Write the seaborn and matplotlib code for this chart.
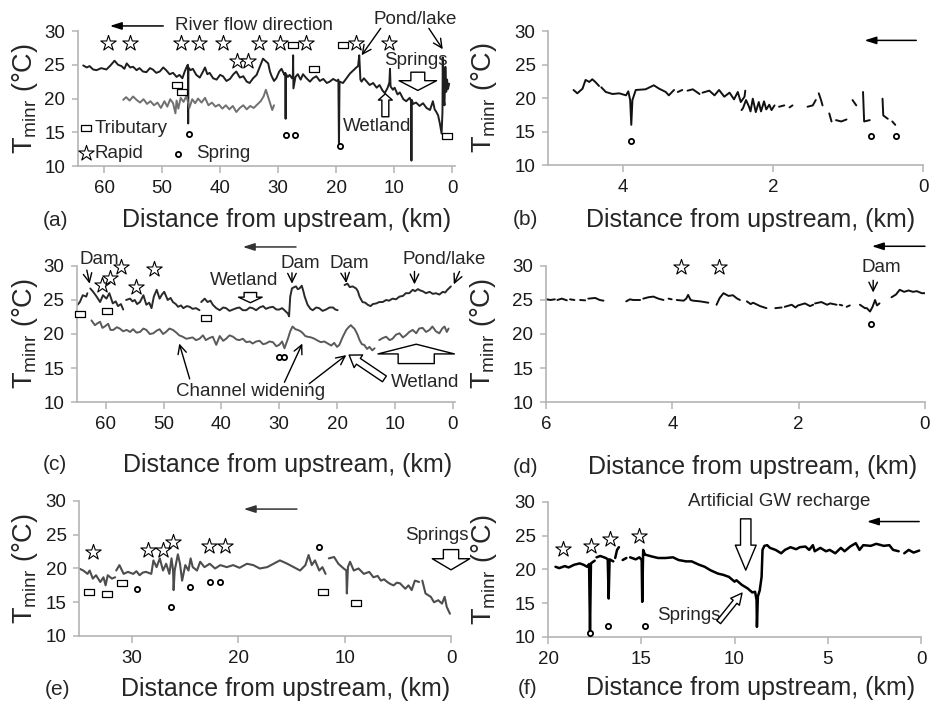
import numpy as np
import pandas as pd
import matplotlib
matplotlib.use('Agg')
import matplotlib.pyplot as plt
import seaborn as sns

# longitudinal profiles: (distance from upstream km, T_minr degC), None = gap in record
a_upper = [(63.6, 24.9), (63.0, 24.6), (62.5, 24.8), (61.9, 24.3), (61.3, 24.2), (60.5, 24.5), (59.6, 24.3),
           (58.9, 24.9), (58.2, 25.6), (57.6, 25.0), (57.0, 24.8), (56.5, 24.4), (56.1, 25.2), (55.5, 24.6),
           (55.0, 24.7), (54.4, 24.2), (53.9, 24.5), (53.3, 24.0), (52.7, 23.9), (52.1, 24.5), (51.6, 24.3),
           (51.0, 23.8), (50.4, 24.0), (49.8, 24.6), (49.3, 24.2), (48.7, 23.6), (48.1, 23.8), (47.5, 23.2),
           (47.0, 23.5), (46.5, 23.0), (46.1, 24.0), (45.7, 24.8), (45.55, 25.0), (45.5, 16.3), (45.45, 24.6),
           (45.1, 24.2), (44.7, 24.4), (44.1, 23.5), (43.5, 23.1), (43.0, 23.9), (42.6, 24.6), (42.2, 23.6),
           (41.8, 23.8), (41.2, 23.0), (40.6, 22.8), (40.0, 23.5), (39.5, 23.3), (38.9, 22.6), (38.3, 22.9),
           (37.7, 23.6), (37.2, 24.0), (36.6, 23.1), (36.0, 23.3), (35.4, 22.5), (34.9, 22.3), (34.3, 23.0),
           (33.7, 23.5), (33.1, 24.8), (32.6, 25.9), (32.1, 25.5), (31.7, 25.2), (31.4, 24.0), (31.1, 23.3),
           (30.7, 22.6), (30.3, 23.0), (29.8, 24.0), (29.4, 24.4), (28.9, 23.5), (28.75, 23.8), (28.7, 17.0),
           (28.65, 23.6), (28.3, 23.2), (28.0, 23.5), (27.6, 23.0), (27.45, 23.4), (27.4, 26.4), (27.35, 21.5),
           (27.0, 23.2), (26.6, 23.6), (26.1, 22.8), (25.7, 23.6), (25.1, 23.0), (24.5, 22.5), (24.0, 23.0),
           (23.4, 23.3), (22.8, 22.6), (22.2, 22.9), (21.6, 22.3), (21.1, 22.5), (20.5, 22.9), (19.9, 22.6),
           (19.6, 22.8), (19.5, 12.8), (19.4, 22.5), (18.8, 22.3), (18.2, 23.0), (17.6, 23.7), (17.0, 24.2),
           (16.5, 24.6), (16.2, 24.8), (16.0, 26.4), (15.8, 22.8), (15.6, 22.5), (15.2, 23.0), (14.8, 22.6),
           (14.2, 22.0), (13.6, 22.3), (13.0, 21.6), (12.5, 22.0), (12.0, 21.2), (11.6, 20.8), (11.1, 21.6),
           (10.8, 22.4), (10.7, 24.4), (10.6, 21.8), (10.2, 21.3), (9.9, 21.6), (9.4, 20.6), (9.0, 20.9),
           (8.4, 19.9), (7.9, 19.6), (7.3, 20.1), (7.05, 19.6), (7.0, 10.8), (6.95, 19.8), (6.7, 19.2),
           (6.2, 19.4), (5.6, 18.9), (5.0, 19.3), (4.4, 18.6), (3.8, 18.3), (3.3, 19.6), (3.0, 18.4),
           (2.7, 18.0), (2.4, 17.5), (2.1, 16.3), (1.8, 14.8), (1.65, 18.0), (1.6, 26.1), (1.5, 20.5),
           (1.3, 19.0), (1.15, 24.7), (1.0, 21.0), (0.85, 22.8), (0.7, 21.4), (0.5, 22.2)]
a_lower = [(56.7, 19.8), (56.2, 20.2), (55.6, 19.7), (55.0, 20.3), (54.4, 19.8), (53.8, 19.4), (53.2, 19.9),
           (52.6, 19.2), (52.0, 19.6), (51.4, 19.0), (50.8, 19.4), (50.2, 18.6), (49.6, 19.6), (49.1, 18.8),
           (48.6, 19.9), (48.1, 19.3), (47.7, 17.8), (47.5, 19.7), (47.2, 18.5), (46.8, 20.1), (46.3, 19.5),
           (45.8, 20.4), (45.3, 18.6), (44.8, 19.9), (44.3, 19.3), (43.8, 20.0), (43.2, 19.4), (42.6, 20.1),
           (42.0, 19.0), (41.4, 19.4), (40.8, 18.8), (40.2, 19.1), (39.6, 18.5), (39.0, 19.0), (38.4, 18.4),
           (37.8, 18.9), (37.2, 18.0), (36.6, 18.6), (36.0, 19.0), (35.4, 18.4), (34.8, 18.9), (34.2, 18.6),
           (33.6, 19.1), (33.0, 19.6), (32.5, 20.3), (32.1, 21.3), (31.7, 20.2), (31.3, 19.1), (31.0, 18.3),
           (30.7, 19.0)]
b_line = [(4.66, 21.2), (4.61, 20.7), (4.54, 21.4), (4.50, 22.7), (4.45, 22.4), (4.41, 22.8), (4.37, 22.4),
          (4.32, 21.8), None, (4.29, 21.6), (4.23, 20.9), (4.14, 20.6), (4.05, 20.7), (3.96, 20.4), (3.93, 21.0),
          (3.905, 19.7), (3.89, 16.0), (3.875, 19.7), (3.83, 21.2), (3.70, 21.3), (3.59, 21.9), (3.52, 21.4),
          (3.43, 20.9), (3.39, 20.4), (3.32, 21.2), None, (3.27, 20.9), (3.21, 21.2), None, (3.14, 21.1),
          (3.07, 21.3), (2.98, 20.6), None, (2.94, 20.8), (2.85, 21.1), (2.78, 20.4), (2.72, 21.2), (2.65, 20.2),
          (2.58, 20.8), (2.52, 19.8), (2.47, 20.9), (2.43, 19.4), (2.38, 20.2), (2.37, 21.1), None,
          (2.42, 18.2), (2.40, 18.5), (2.36, 19.7), (2.32, 18.7), (2.30, 18.0), (2.27, 19.9), (2.23, 17.9),
          (2.19, 19.4), (2.16, 18.0), (2.12, 19.5), (2.09, 18.3), (2.05, 19.0), (2.02, 18.2), (1.98, 18.9),
          None, (1.92, 18.7), (1.85, 18.9), None, (1.78, 18.6), (1.74, 18.9), None, (1.54, 18.7), (1.47, 18.9),
          (1.43, 19.7), None, (1.39, 20.7), (1.36, 19.7), (1.34, 18.9), None, (1.25, 17.7), (1.22, 16.5), None,
          (1.16, 16.7), (1.09, 16.5), (1.02, 16.8), None, (0.94, 19.7), (0.89, 18.9), None, (0.80, 20.9),
          (0.785, 16.5), (0.71, 16.7), None, (0.54, 19.9), (0.53, 17.4), (0.47, 16.9), None, (0.41, 16.5),
          (0.37, 16.0)]
c_upper = [(64.9, 24.3), (64.5, 24.7), (64.0, 25.7), (63.4, 25.5), (63.2, 26.0), None, (62.7, 26.7),
           (62.2, 26.2), (61.6, 25.5), (61.0, 24.7), (60.5, 25.7), (59.9, 25.2), (59.4, 26.0), (58.8, 24.5),
           (58.3, 24.8), (57.9, 24.1), (57.4, 24.4), (57.0, 23.6), None, (56.5, 25.0), (55.8, 25.2),
           (55.4, 24.8), (55.0, 25.0), (54.6, 24.4), (54.1, 24.7), (53.5, 25.7), (53.0, 24.3), (52.5, 24.6),
           (52.1, 23.8), (51.7, 25.5), (51.2, 26.5), (50.7, 25.2), (50.3, 25.8), (49.9, 26.2), (49.3, 25.0),
           (48.8, 25.3), (48.4, 24.7), (47.9, 24.4), (47.5, 24.0), (47.0, 24.2), (46.6, 23.8), (46.0, 24.1),
           (45.5, 24.0), (45.0, 23.7), (44.4, 23.8), (43.8, 23.5), None, (43.5, 24.7), (42.9, 25.2),
           (42.4, 24.7), (41.9, 24.9), (41.5, 24.3), (40.9, 23.8), (40.3, 23.5), (39.7, 23.9), (39.2, 23.8),
           (38.6, 23.4), (38.0, 23.6), (37.4, 23.8), (36.9, 23.9), (36.3, 23.5), (35.7, 23.5), (35.1, 23.9),
           (34.6, 23.8), (34.0, 23.5), (33.4, 23.9), (32.8, 24.1), (32.3, 23.7), (31.7, 23.9), (31.1, 24.0),
           (30.5, 23.6), (30.0, 23.6), (29.5, 23.8), (29.1, 23.5), (28.5, 23.0), (28.3, 22.6), (28.1, 25.5),
           (27.8, 26.7), (27.4, 26.9), (27.1, 27.0), (26.8, 26.6), (26.5, 26.7), (26.1, 27.1), (25.8, 26.2),
           (25.6, 25.5), (25.1, 24.3), (24.6, 23.7), (24.2, 23.5), (23.6, 23.9), (23.1, 23.8), (22.5, 23.4),
           (21.9, 23.6), (21.3, 23.9), (20.7, 23.9), (20.3, 23.6), (19.9, 23.5), None, (18.7, 27.2),
           (18.2, 27.4), (17.8, 26.9), (17.3, 27.0), (16.7, 26.7), (16.4, 26.3), (16.1, 25.5), (15.6, 24.7),
           (15.1, 24.6), (14.7, 24.3), (14.2, 24.1), (13.8, 24.4), (13.2, 24.5), (12.7, 24.7), (12.1, 24.7),
           (11.5, 25.0), (11.0, 24.9), (10.4, 25.2), (9.8, 25.1), (9.2, 25.5), (8.6, 25.6), (8.1, 26.0),
           (7.5, 26.0), (6.9, 26.5), (6.5, 26.3), (6.0, 26.6), (5.6, 26.4), (5.2, 26.3), (4.6, 26.0),
           (4.0, 26.2), (3.4, 25.9), (2.9, 26.0), (2.3, 25.8), (1.7, 26.2), (1.3, 26.1), (0.9, 26.5),
           (0.3, 27.0)]
c_lower = [(62.5, 22.0), (61.9, 21.3), (61.4, 21.6), (61.0, 21.8), (60.6, 20.9), (60.2, 21.1), (59.6, 21.5),
           (59.2, 20.6), (58.7, 20.6), (58.1, 21.0), (57.6, 20.8), (57.0, 20.4), (56.4, 20.6), (55.8, 20.3),
           (55.3, 20.7), (54.7, 20.2), (54.1, 20.3), (53.5, 20.8), (53.0, 20.6), (52.4, 20.0), (51.8, 20.1),
           (51.2, 20.5), (50.7, 20.7), (50.1, 20.0), (49.6, 20.3), (49.0, 20.8), (48.4, 20.6), (47.8, 20.2),
           (47.3, 19.8), (46.7, 19.6), (46.1, 19.3), (45.5, 19.4), (45.0, 19.5), (44.4, 19.1), (43.8, 19.3),
           (43.2, 19.8), (42.7, 19.1), (42.1, 19.4), (41.5, 19.6), (40.9, 18.4), (40.3, 19.7), (39.7, 19.0),
           (39.2, 19.3), (38.6, 19.8), (38.0, 19.6), (37.4, 19.2), (36.9, 19.1), (36.3, 19.3), (35.7, 18.8),
           (35.1, 18.9), (34.6, 18.6), (34.0, 18.9), (33.4, 19.0), (32.8, 18.5), (32.3, 18.6), (31.7, 18.9),
           (31.1, 18.8), (30.5, 18.2), (30.0, 18.4), (29.5, 18.9), (29.1, 17.9), (28.8, 18.6), (28.5, 19.3),
           (28.1, 20.4), (27.7, 21.1), (27.2, 20.7), (26.8, 20.6), (26.3, 20.4), (25.9, 20.1), (25.5, 19.7),
           (25.1, 19.6), (24.5, 19.5), (23.9, 19.3), (23.3, 19.0), (22.8, 18.8), (22.2, 18.9), (21.6, 18.6),
           (21.0, 18.3), (20.5, 18.7), (20.0, 18.1), (19.6, 18.4), (19.0, 19.6), (18.4, 20.6), (18.0, 21.0),
           (17.6, 21.3), (17.3, 21.0), (17.0, 20.8), (16.5, 20.0), (16.1, 19.1), (15.7, 18.5), (15.3, 18.4),
           (14.8, 17.8), (14.4, 18.1), (13.9, 17.6), (13.5, 17.9), None, (12.7, 19.1), (12.1, 19.4),
           (11.5, 19.6), (10.9, 19.1), (10.4, 19.3), (9.8, 19.9), (9.2, 20.1), (8.6, 19.5), (8.1, 19.8),
           (7.5, 20.3), (6.9, 20.6), (6.3, 20.1), (5.8, 20.8), (5.2, 20.9), (4.6, 20.3), (4.0, 20.6),
           (3.5, 21.1), (2.9, 20.4), (2.3, 20.1), (1.8, 20.8), (1.4, 21.1), (1.0, 20.3), (0.7, 20.8)]
d_line = [(5.99, 25.1), (5.93, 25.0), (5.86, 25.1), None, (5.82, 25.0), (5.75, 25.2), (5.67, 24.95), None,
          (5.62, 25.1), (5.55, 25.0), None, (5.46, 25.0), (5.38, 24.95), None, (5.33, 25.2), (5.22, 25.3),
          (5.15, 25.0), (5.09, 24.9), None, (4.73, 24.8), (4.67, 25.1), (4.62, 25.0), (4.51, 25.0), None,
          (4.46, 25.2), (4.38, 25.4), (4.30, 25.5), (4.22, 25.2), (4.14, 25.0), None, (4.06, 25.2),
          (4.01, 25.1), None, (3.93, 25.0), (3.82, 24.9), (3.78, 25.2), (3.75, 25.75), (3.71, 25.0),
          (3.67, 24.9), (3.56, 24.8), (3.43, 24.6), None, (3.30, 24.3), (3.25, 25.3), (3.19, 26.0),
          (3.11, 25.6), (3.04, 25.7), (2.98, 25.25), (2.93, 25.0), None, (2.82, 24.8), (2.76, 24.4),
          (2.72, 24.6), (2.61, 24.1), (2.51, 23.8), None, (2.37, 23.8), (2.27, 23.9), None, (2.22, 24.0),
          (2.11, 24.3), (2.05, 23.9), (2.01, 24.2), (1.90, 24.5), (1.82, 24.1), (1.77, 24.3), None,
          (1.74, 24.5), (1.64, 24.7), (1.55, 24.3), (1.50, 24.5), (1.40, 24.3), None, (1.35, 24.3),
          (1.31, 24.2), None, (1.24, 24.0), (1.19, 24.2), None, (1.03, 24.3), (0.95, 23.8), (0.92, 23.8),
          (0.87, 23.3), (0.83, 24.0), (0.79, 25.0), (0.76, 24.2), (0.72, 24.5), None, (0.53, 25.4),
          (0.46, 25.8), (0.40, 26.5), (0.33, 26.2), (0.26, 26.4), (0.19, 26.2), (0.13, 26.3), (0.05, 26.0),
          (0.0, 26.0)]
e_line = [(35.0, 20.0), (34.6, 19.7), (34.2, 19.2), (34.0, 19.7), (33.7, 18.5), (33.4, 19.0), (33.0, 18.0),
          (32.7, 18.7), (32.5, 17.5), (32.3, 19.0), (31.9, 18.5), (31.6, 18.7), None, (31.5, 19.7),
          (31.2, 20.5), (30.8, 19.2), (30.4, 19.5), (29.9, 19.2), (29.6, 19.6), (29.3, 19.0), (29.0, 19.4),
          (28.7, 19.5), (28.2, 19.2), (28.0, 21.2), (27.7, 20.2), (27.4, 21.5), (27.1, 19.7), (26.8, 20.7),
          (26.5, 19.2), (26.3, 21.5), (26.15, 19.7), (26.1, 16.8), (26.0, 19.7), (25.7, 22.1), (25.5, 20.7),
          (25.3, 18.2), (25.0, 20.5), (24.7, 19.7), (24.5, 21.5), (24.3, 20.2), (23.9, 19.7), (23.6, 21.0),
          (23.2, 20.2), (22.7, 20.7), (22.2, 20.0), (21.7, 20.5), (21.1, 20.2), (20.5, 20.5), (19.9, 20.1),
          (19.2, 20.7), (18.6, 20.5), (18.0, 20.0), (17.3, 20.2), (16.7, 20.7), (16.1, 21.2), (15.4, 20.7),
          (14.8, 20.2), (14.2, 19.7), (13.7, 20.5), (13.4, 22.0), (13.1, 20.5), (12.8, 21.2), (12.4, 19.7),
          (12.1, 20.2), (11.8, 19.2), None, (11.5, 21.5), (11.0, 21.7), (10.6, 20.7), (10.1, 20.0),
          (9.85, 19.7), (9.8, 16.3), (9.7, 20.2), (9.5, 21.0), (9.15, 19.7), (8.7, 20.0), (8.2, 19.2),
          (7.7, 19.5), (7.3, 18.7), (6.9, 18.9), (6.6, 18.2), (6.3, 18.4), (6.0, 18.0), (5.7, 17.7),
          (5.4, 17.5), (5.1, 17.9), (4.8, 17.8), (4.3, 17.0), (4.0, 17.5), (3.7, 16.8), (3.4, 18.2),
          (3.0, 18.0), None, (2.7, 18.2), (2.4, 16.3), (2.1, 16.0), (1.9, 15.8), (1.6, 15.0), (1.2, 15.3),
          (0.85, 14.8), (0.6, 15.8), (0.4, 14.3), (0.1, 13.3)]
f_line = [(19.6, 20.4), (19.4, 20.2), (19.1, 20.5), (18.9, 20.3), (18.6, 20.7), (18.3, 20.9), (18.1, 20.7),
          (17.9, 20.4), (17.8, 20.8), (17.75, 10.7), (17.7, 20.9), (17.5, 21.3), None, (17.4, 21.8),
          (17.2, 22.0), (16.9, 21.7), (16.8, 21.5), (16.75, 15.7), (16.7, 21.5), (16.5, 21.2), None,
          (16.4, 21.7), (16.3, 22.9), (16.2, 23.3), None, (16.0, 21.4), (15.8, 21.7), None, (15.6, 21.8),
          (15.3, 21.5), (15.1, 21.8), (14.98, 21.4), (14.95, 15.2), (14.9, 22.9), (14.8, 22.2), (14.4, 21.9),
          (14.1, 21.7), (13.7, 21.7), (13.3, 21.8), (13.0, 21.4), (12.6, 21.2), (12.3, 21.2), (11.9, 20.7),
          (11.6, 20.4), (11.3, 19.9), (10.9, 19.4), (10.6, 19.2), (10.3, 18.9), (10.0, 18.2), (9.9, 18.4),
          (9.6, 17.7), (9.3, 17.2), (9.05, 16.6), (8.9, 16.7), (8.82, 15.5), (8.8, 11.5), (8.75, 16.0),
          (8.65, 16.9), (8.55, 18.9), (8.5, 22.9), (8.4, 23.5), (8.25, 23.6), (8.1, 23.2), (7.8, 22.9),
          (7.5, 22.4), (7.3, 22.9), (7.0, 23.3), (6.7, 23.0), (6.5, 23.3), (6.2, 23.4), (6.0, 22.9),
          (5.8, 23.6), (5.7, 22.7), (5.4, 23.2), (5.1, 22.7), (4.9, 22.9), (4.6, 22.4), (4.3, 23.2),
          (4.1, 22.7), (3.8, 23.4), (3.5, 23.9), (3.3, 22.9), (3.1, 23.6), (2.7, 23.5), (2.4, 23.8),
          (2.0, 23.5), (1.7, 23.6), (1.5, 22.9), (1.2, 22.7), None, (0.9, 22.4), (0.66, 22.9), (0.4, 22.5),
          (0.1, 22.8)]

# feature symbols (rapid = star, tributary = box, spring = ring)
a_rapids = [(59.3, 28.2), (55.6, 28.2), (46.8, 28.2), (43.7, 28.2), (39.5, 28.2), (33.3, 28.2), (29.7, 28.2),
            (25.1, 28.2), (16.6, 28.2), (10.9, 28.2), (37.1, 25.5), (35.2, 25.5)]
a_tribs = [(27.4, 28.0), (18.8, 28.0), (23.8, 24.3), (47.5, 22.0), (46.6, 20.9), (0.8, 14.4)]
a_springs = [(45.4, 14.8), (28.7, 14.6), (27.1, 14.6), (19.4, 13.0)]
b_springs = [(3.9, 13.6), (0.69, 14.4), (0.36, 14.4)]
c_rapids = [(60.7, 27.2), (59.3, 28.2), (57.3, 29.8), (54.7, 26.9), (51.6, 29.6)]
c_tribs = [(64.4, 23.0), (59.8, 23.4), (42.7, 22.3)]
c_springs = [(30.1, 16.6), (29.2, 16.6)]
d_rapids = [(3.87, 29.9), (3.26, 29.9)]
d_springs = [(0.86, 21.5)]
e_rapids = [(33.7, 22.4), (28.5, 22.7), (27.1, 22.7), (26.2, 23.9), (22.8, 23.4), (21.3, 23.3)]
e_tribs = [(34.1, 16.5), (32.4, 16.2), (31.0, 17.8), (12.0, 16.5), (8.9, 14.9)]
e_springs = [(29.5, 16.9), (26.3, 14.3), (24.6, 17.3), (22.7, 18.0), (21.7, 18.0), (12.4, 23.2)]
f_rapids = [(19.2, 23.0), (17.7, 23.5), (16.7, 24.5), (15.1, 24.9)]
f_springs = [(17.75, 10.6), (16.8, 11.7), (14.8, 11.7)]

sns.set_style('ticks')
plt.rcParams['font.family'] = ['Liberation Sans', 'DejaVu Sans']
plt.rcParams['mathtext.fontset'] = 'custom'
plt.rcParams['mathtext.rm'] = 'Liberation Sans'
plt.rcParams['mathtext.it'] = 'Liberation Sans:italic'

TXT = 13.5
RECT = [(-1, -0.68), (1, -0.68), (1, 0.68), (-1, 0.68), (-1, -0.68)]
MARK = {'rapid': dict(marker='*', s=135, linewidth=0.8),
        'trib': dict(marker=RECT, s=42, linewidth=0.9),
        'spring': dict(marker='o', s=14, linewidth=1.3)}


def to_frame(pairs):
    rows, seg = [], 0
    for p in pairs:
        if p is None:
            seg += 1
            continue
        rows.append((p[0], p[1], seg))
    return pd.DataFrame(rows, columns=['km', 'T', 'seg'])


def draw_line(ax, pairs, color, lw=1.4):
    sns.lineplot(data=to_frame(pairs), x='km', y='T', units='seg', estimator=None, sort=False,
                 color=color, linewidth=lw, ax=ax, legend=False)


def draw_marks(ax, pairs, kind):
    df = pd.DataFrame(pairs, columns=['km', 'T'])
    sns.scatterplot(data=df, x='km', y='T', color='white', edgecolor='black', zorder=5,
                    clip_on=False, ax=ax, legend=False, **MARK[kind])


def setup(ax, xmax, xmin, xticks):
    ax.set_xlim(xmax, xmin)
    ax.set_ylim(10, 30)
    ax.set_xticks(xticks)
    ax.set_yticks([10, 15, 20, 25, 30])
    ax.set_xlabel('')
    ax.set_ylabel('')
    sns.despine(ax=ax)
    for s in ['left', 'bottom']:
        ax.spines[s].set_color('#b4b4b4')
        ax.spines[s].set_linewidth(1.2)
    ax.tick_params(axis='both', colors='#b4b4b4', labelcolor='#1a1a1a', labelsize=13.5, width=1.1)
    ax.tick_params(axis='y', length=4, pad=5)
    ax.tick_params(axis='x', length=5, pad=5)


def labels(ax, tag, tag_x, xl_x, xl_y, yl_x):
    ax.text(xl_x, xl_y, 'Distance from upstream, (km)', transform=ax.transAxes,
            ha='center', va='center', fontsize=18)
    ax.text(tag_x, xl_y, tag, transform=ax.transAxes, ha='center', va='center', fontsize=15)
    ax.text(yl_x, 0.5, r'T$_{\mathrm{minr}}$ (°C)', transform=ax.transAxes, rotation=90,
            ha='center', va='center', fontsize=19.5)


def flow(ax, start, end, color='black'):
    ax.annotate('', xy=end, xytext=start, annotation_clip=False,
                arrowprops=dict(arrowstyle='-|>,head_length=0.5,head_width=0.16', color=color,
                                lw=1.1, mutation_scale=14, shrinkA=0, shrinkB=0))


def pointer(ax, start, end):
    ax.annotate('', xy=end, xytext=start, annotation_clip=False,
                arrowprops=dict(arrowstyle='->,head_length=0.45,head_width=0.22', color='black',
                                lw=1.0, mutation_scale=14, shrinkA=0, shrinkB=0))


def block(ax, start, end, hw, hl, tw):
    ax.annotate('', xy=end, xytext=start, annotation_clip=False,
                arrowprops=dict(arrowstyle=f'simple,head_width={hw},head_length={hl},tail_width={tw}',
                                fc='white', ec='black', lw=1.0, mutation_scale=1, shrinkA=0, shrinkB=0))


def note(ax, x, y, s, ha='center'):
    ax.text(x, y, s, ha=ha, va='center', fontsize=TXT)


fig = plt.figure(figsize=(9.33, 7.08), dpi=100)
ax_a = fig.add_axes([0.0836, 0.7655, 0.404, 0.1907])
ax_b = fig.add_axes([0.5874, 0.7669, 0.4019, 0.1893])
ax_c = fig.add_axes([0.0825, 0.4322, 0.4051, 0.1921])
ax_d = fig.add_axes([0.5852, 0.4322, 0.4062, 0.1921])
ax_e = fig.add_axes([0.0847, 0.1017, 0.3987, 0.1907])
ax_f = fig.add_axes([0.5874, 0.1003, 0.3998, 0.1907])

# (a)
draw_line(ax_a, a_upper, '#1e1e1e')
draw_line(ax_a, a_lower, '#707070')
draw_marks(ax_a, a_rapids, 'rapid')
draw_marks(ax_a, a_tribs, 'trib')
draw_marks(ax_a, a_springs, 'spring')
setup(ax_a, 64.5, -0.5, [60, 50, 40, 30, 20, 10, 0])
labels(ax_a, '(a)', -0.061, 0.552, -0.40, -0.14)
flow(ax_a, (49.8, 30.75), (59.0, 30.75))
note(ax_a, 47.8, 30.8, 'River flow direction', ha='left')
note(ax_a, 6.3, 31.7, 'Pond/lake')
pointer(ax_a, (12.3, 30.4), (15.6, 26.4))
pointer(ax_a, (4.0, 30.4), (1.6, 27.3))
note(ax_a, 6.3, 25.6, 'Springs')
block(ax_a, (5.9, 23.9), (5.9, 21.2), 27, 7, 10)
note(ax_a, 13.0, 15.9, 'Wetland')
block(ax_a, (11.5, 17.3), (11.5, 20.7), 10, 4.5, 5)
# legend box of symbols
for (fx, fy, kind, txt, tx) in [(0.02, 0.28, 'trib', 'Tributary', 0.045),
                                (0.02, 0.096, 'rapid', 'Rapid', 0.045),
                                (0.265, 0.09, 'spring', 'Spring', 0.313)]:
    ax_a.scatter([fx], [fy], transform=ax_a.transAxes, c='white', edgecolors='black',
                 clip_on=False, zorder=5, **MARK[kind])
    ax_a.text(tx, fy, txt, transform=ax_a.transAxes, va='center', fontsize=TXT)

# (b)
draw_line(ax_b, b_line, '#111111')
draw_marks(ax_b, b_springs, 'spring')
setup(ax_b, 5.0, 0, [4, 2, 0])
labels(ax_b, '(b)', -0.059, 0.539, -0.41, -0.171)
flow(ax_b, (0.09, 28.6), (0.78, 28.6))

# (c)
draw_line(ax_c, c_upper, '#2a2a2a')
draw_line(ax_c, c_lower, '#5a5a5a')
draw_marks(ax_c, c_rapids, 'rapid')
draw_marks(ax_c, c_tribs, 'trib')
draw_marks(ax_c, c_springs, 'spring')
setup(ax_c, 65, -0.4, [60, 50, 40, 30, 20, 10, 0])
labels(ax_c, '(c)', -0.058, 0.558, -0.463, -0.138)
flow(ax_c, (27.1, 32.8), (36.3, 32.8), '#333333')
note(ax_c, 61.2, 30.9, 'Dam')
pointer(ax_c, (63.3, 29.4), (62.8, 27.4))
note(ax_c, 26.3, 30.4, 'Dam')
pointer(ax_c, (27.8, 29.0), (27.8, 27.4))
note(ax_c, 17.8, 30.4, 'Dam')
pointer(ax_c, (18.6, 29.0), (18.4, 27.5))
note(ax_c, 1.4, 30.9, 'Pond/lake')
pointer(ax_c, (6.6, 29.2), (6.6, 27.3))
pointer(ax_c, (-1.2, 29.2), (-0.2, 27.3))
note(ax_c, 36.1, 27.9, 'Wetland')
block(ax_c, (35.0, 26.1), (35.0, 24.6), 17, 4, 9)
note(ax_c, 34.9, 11.5, 'Channel widening')
pointer(ax_c, (45.5, 13.4), (47.3, 18.6))
pointer(ax_c, (29.1, 12.9), (26.0, 18.6))
pointer(ax_c, (24.8, 12.7), (18.4, 16.9))
note(ax_c, 4.7, 12.9, 'Wetland')
block(ax_c, (11.8, 13.4), (17.9, 16.9), 11, 8, 5)
block(ax_c, (6.3, 15.65), (6.3, 18.5), 55, 7, 26)

# (d)
draw_line(ax_d, d_line, '#111111')
draw_marks(ax_d, d_rapids, 'rapid')
draw_marks(ax_d, d_springs, 'spring')
setup(ax_d, 6, 0, [6, 4, 2, 0])
labels(ax_d, '(d)', -0.053, 0.544, -0.478, -0.167)
flow(ax_d, (0.0, 32.9), (0.84, 32.9))
note(ax_d, 0.69, 29.8, 'Dam')
pointer(ax_d, (0.82, 27.9), (0.82, 26.1))

# (e)
draw_line(ax_e, e_line, '#4d4d4d', 1.5)
draw_marks(ax_e, e_rapids, 'rapid')
draw_marks(ax_e, e_tribs, 'trib')
draw_marks(ax_e, e_springs, 'spring')
setup(ax_e, 35, 0, [30, 20, 10, 0])
labels(ax_e, '(e)', -0.059, 0.554, -0.393, -0.145)
flow(ax_e, (14.5, 28.8), (19.5, 28.8), '#333333')
note(ax_e, 1.3, 24.9, 'Springs')
block(ax_e, (0.0, 22.8), (0.0, 19.8), 27, 8, 11)

# (f)
draw_line(ax_f, f_line, '#000000', 1.8)
draw_marks(ax_f, f_rapids, 'rapid')
draw_marks(ax_f, f_springs, 'spring')
setup(ax_f, 20, 0, [20, 15, 10, 5, 0])
labels(ax_f, '(f)', -0.056, 0.542, -0.378, -0.172)
flow(ax_f, (0.1, 27.1), (2.9, 27.1))
note(ax_f, 7.6, 30.1, 'Artificial GW recharge')
block(ax_f, (9.4, 27.5), (9.4, 19.9), 15, 18, 7.5)
note(ax_f, 12.45, 13.2, 'Springs')
block(ax_f, (10.85, 12.2), (9.6, 16.5), 8, 8, 3.5)

fig.savefig('out.png', dpi=100)
